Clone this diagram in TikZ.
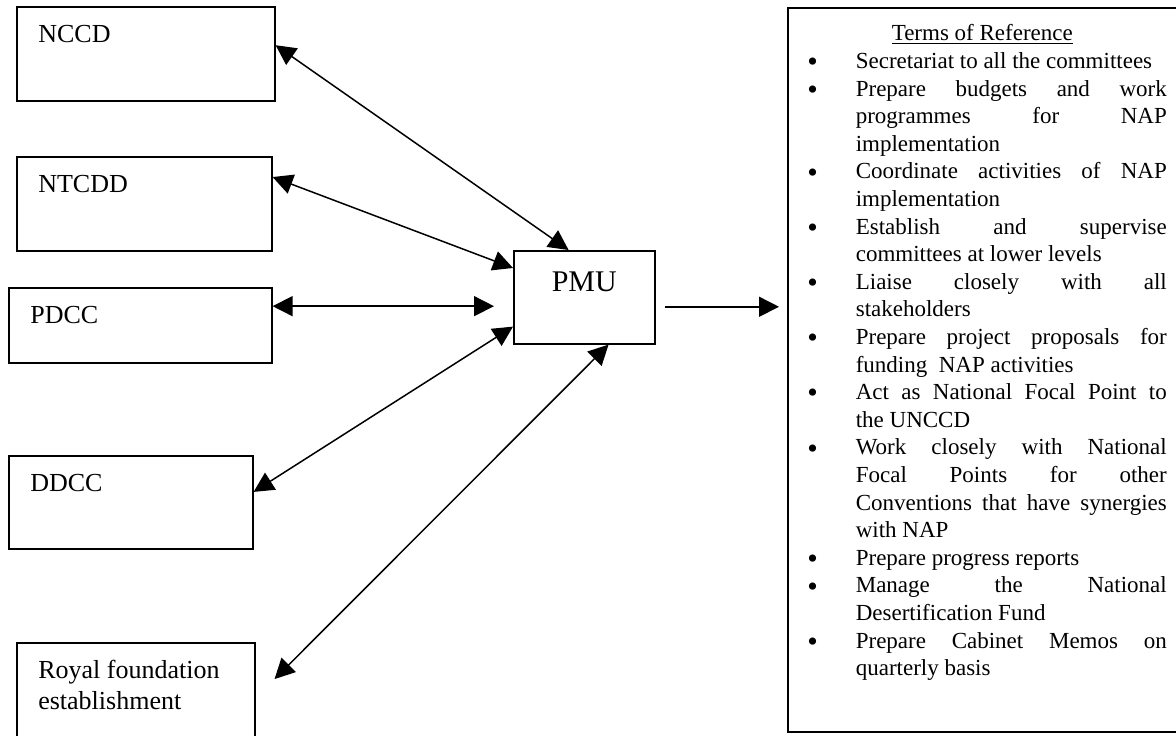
\documentclass[tikz,border=0pt]{standalone}
\usepackage{fontspec}
\setmainfont{Liberation Serif}
\usepackage{tikz}
\usetikzlibrary{arrows.meta,calc,positioning}
\tikzset{%
	unitbox/.style = {draw, line width=0.8pt, anchor=north west, align=flush left, inner xsep=10.75pt, inner ysep=0pt, text height=18pt, font=\fontsize{13}{15.5}\selectfont}, % committees
	pmubox/.style  = {draw, line width=0.8pt, anchor=north west, align=center, text width=66.5pt, inner xsep=2pt, inner ysep=0pt, text height=20.5pt, text depth=26pt, font=\fontsize{15}{18}\selectfont},
	torbox/.style  = {draw, line width=0.8pt, anchor=north west, align=justify, text width=191.5pt, inner xsep=5pt, inner ysep=0pt, text height=16.5pt, text depth=345.5pt, font=\fontsize{11.5}{13.8}\selectfont}, % terms of reference
	biarrow/.style = {line width=0.75pt, {Triangle[length=10pt,width=10pt]}-{Triangle[length=10pt,width=10pt]}},
	arrow/.style   = {line width=0.75pt, -{Triangle[length=10pt,width=10pt]}},
}
\newcommand{\toritem}[1]{\par\hangindent=29pt\hangafter=1\noindent\makebox[29pt][l]{\hspace{4.8pt}\smash{\raisebox{-1.6pt}{\fontsize{15}{13.8}\selectfont\textbullet}}}#1}

\begin{document}
\begin{tikzpicture}[x=0.5pt,y=-0.5pt]
	\useasboundingbox (0,0) rectangle (1176,735);
	\clip (0,0) rectangle (1176,735);
	\node [unitbox, text width=107.5pt, text depth=29pt] (nccd) at (16,6) {NCCD};
	\node [unitbox, text width=106pt, text depth=29pt] (ntcdd) at (16,156) {NTCDD};
	\node [unitbox, text width=110pt, text depth=19.5pt] (pdcc) at (8,287) {PDCC};
	\node [unitbox, text width=100.5pt, text depth=28.5pt] (ddcc) at (8,455) {DDCC};
	\node [unitbox, text width=97.5pt, text depth=42pt] (royal) at (16,642) {Royal foundation\\establishment};
	\node [pmubox] (pmu) at (513,250) {PMU};
	\node [torbox] (tor) at (787,7) {\rightskip=7pt\tolerance=10000\hyphenpenalty=10000
		\noindent\hfill\underline{Terms of Reference}\hfill\mbox{}
		\toritem{Secretariat to all the committees}
		\toritem{Prepare budgets and work\linebreak programmes for NAP\linebreak implementation}
		\toritem{Coordinate activities of NAP\linebreak implementation}
		\toritem{Establish and supervise\linebreak committees at lower levels}
		\toritem{Liaise closely with all\linebreak stakeholders}
		\toritem{Prepare project proposals for\linebreak funding\ \ NAP activities}
		\toritem{Act as National Focal Point to\linebreak the UNCCD}
		\toritem{Work closely with National\linebreak Focal Points for other\linebreak Conventions that have synergies\linebreak with NAP}
		\toritem{Prepare progress reports}
		\toritem{Manage the National\linebreak Desertification Fund}
		\toritem{Prepare Cabinet Memos on\linebreak quarterly basis}\par};
	\coordinate (pdccport) at ($(pdcc.north east)!0.25!(pdcc.south east)$);
	\coordinate (pmuport) at ($(pmu.north east)!0.6!(pmu.south east)$);

	\draw[biarrow] ($(nccd.north east)!0.41!(nccd.south east)$) -- ($(pmu.north west)!0.39!(pmu.north east)$);
	\draw[biarrow] ($(ntcdd.north east)!0.22!(ntcdd.south east)$) -- ($(pmu.north west)!0.19!(pmu.south west)$);
	\draw[biarrow, shorten >=9.5pt] (pdccport) -- (pdccport -| pmu.west);
	\draw[biarrow] ($(ddcc.north east)!0.39!(ddcc.south east)$) -- ($(pmu.north west)!0.81!(pmu.south west)$);
	\draw[biarrow, shorten <=13.4pt] ([yshift=-28pt]royal.north east) -- ($(pmu.south west)!0.67!(pmu.south east)$);
	\draw[arrow, shorten <=4.5pt, shorten >=4pt] (pmuport) -- (pmuport -| tor.west);
\end{tikzpicture}
\end{document}
